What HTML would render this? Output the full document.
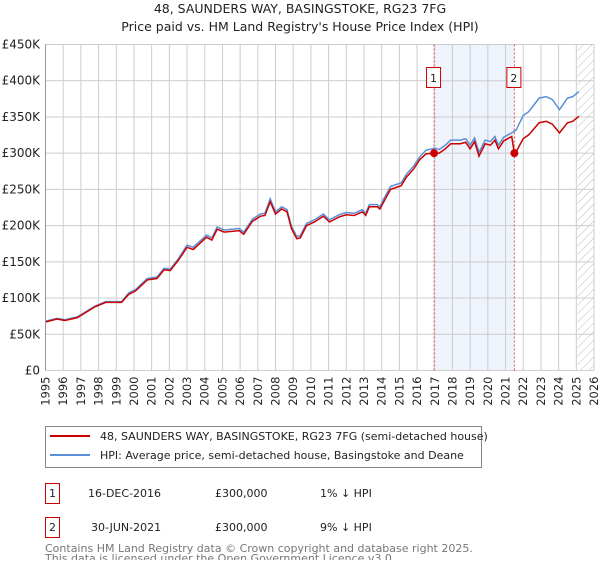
<!DOCTYPE html>
<html><head><meta charset="utf-8"><style>
body{margin:0;background:#fff;font-family:"Liberation Sans","DejaVu Sans",sans-serif;}
svg text{font-family:"DejaVu Sans","Liberation Sans",sans-serif;}
</style></head><body>
<svg id="c" width="600" height="560" xmlns="http://www.w3.org/2000/svg">
<defs><pattern id="hatch" width="6" height="6" patternUnits="userSpaceOnUse" patternTransform="rotate(45)"><line x1="0" y1="0" x2="0" y2="6" stroke="#bbb" stroke-width="1"/></pattern></defs>
<text x="300" y="13" text-anchor="middle" font-size="12.5" fill="#222">48, SAUNDERS WAY, BASINGSTOKE, RG23 7FG</text>
<text x="300" y="31" text-anchor="middle" font-size="12.5" fill="#222">Price paid vs. HM Land Registry's House Price Index (HPI)</text>
<g id="plot"></g>
<g>
<rect x="45.5" y="426.5" width="436" height="41" fill="#fff" stroke="#888"/>
<line x1="50" y1="436" x2="90" y2="436" stroke="#cc0000" stroke-width="2"/>
<text x="100" y="440" font-size="11" fill="#222">48, SAUNDERS WAY, BASINGSTOKE, RG23 7FG (semi-detached house)</text>
<line x1="50" y1="455" x2="90" y2="455" stroke="#5b8fd6" stroke-width="2"/>
<text x="100" y="459" font-size="11" fill="#222">HPI: Average price, semi-detached house, Basingstoke and Deane</text>
</g>
<g font-size="11" fill="#222">
<rect x="45.5" y="483.5" width="14" height="20" fill="#fff" stroke="#cc0000"/><text x="52.5" y="497" text-anchor="middle">1</text>
<text x="88" y="497">16-DEC-2016</text><text x="215" y="497">£300,000</text><text x="320" y="497">1% ↓ HPI</text>
<rect x="45.5" y="517.5" width="14" height="20" fill="#fff" stroke="#cc0000"/><text x="52.5" y="531" text-anchor="middle">2</text>
<text x="91" y="531">30-JUN-2021</text><text x="215" y="531">£300,000</text><text x="320" y="531">9% ↓ HPI</text>
</g>
<text x="45" y="552" font-size="11" fill="#777">Contains HM Land Registry data © Crown copyright and database right 2025.</text>
<text x="45" y="562" font-size="11" fill="#777">This data is licensed under the Open Government Licence v3.0.</text>
</svg>
<script>
const hpiYears=[1995.0,1995.65,1996.1,1996.8,1997.8,1998.4,1999.3,1999.7,2000.1,2000.75,2001.3,2001.7,2002.05,2002.5,2003.0,2003.35,2004.1,2004.4,2004.7,2005.1,2005.95,2006.2,2006.7,2007.15,2007.4,2007.7,2008.0,2008.35,2008.65,2008.9,2009.2,2009.4,2009.75,2010.2,2010.7,2011.05,2011.6,2012.0,2012.45,2012.9,2013.1,2013.3,2013.75,2013.9,2014.1,2014.5,2015.1,2015.4,2015.8,2016.15,2016.5,2017.0,2017.25,2017.6,2017.9,2018.45,2018.75,2019.0,2019.25,2019.5,2019.85,2020.15,2020.4,2020.6,2020.9,2021.35,2021.6,2022.0,2022.3,2022.9,2023.3,2023.65,2024.05,2024.5,2024.8,2025.15];
const hpiValues=[68,72,70,74,89,95,95,107,112,127,129,141,140,154,173,170,187,183,198,194,196,191,209,216,217,237,219,226,222,199,185,186,203,208,216,208,215,218,217,222,217,229,229,226,236,254,259,271,282,295,304,307,305,311,318,318,320,311,321,301,318,316,323,311,322,328,332,352,357,376,378,374,360,376,378,385];
const priceYears=[1995.0,1995.65,1996.1,1996.8,1997.8,1998.4,1999.3,1999.7,2000.1,2000.75,2001.3,2001.7,2002.05,2002.5,2003.0,2003.35,2004.1,2004.4,2004.7,2005.1,2005.95,2006.2,2006.7,2007.15,2007.4,2007.7,2008.0,2008.35,2008.65,2008.9,2009.2,2009.4,2009.75,2010.2,2010.7,2011.05,2011.6,2012.0,2012.45,2012.9,2013.1,2013.3,2013.75,2013.9,2014.1,2014.5,2015.1,2015.4,2015.8,2016.15,2016.5,2016.96,2017.25,2017.6,2017.9,2018.45,2018.75,2019.0,2019.25,2019.5,2019.85,2020.15,2020.4,2020.6,2020.9,2021.35,2021.5,2021.6,2022.0,2022.3,2022.9,2023.3,2023.65,2024.05,2024.5,2024.8,2025.15];
const priceValues=[67,71,69,73,88,94,94,105,110,125,127,139,138,152,170,167,184,180,195,191,193,188,206,213,214,233,216,223,219,196,182,183,200,205,213,205,212,215,214,219,214,226,226,223,232,250,255,267,278,291,299,300,300,306,313,313,315,306,316,296,313,311,318,306,317,323,300,302,320,325,342,344,340,328,342,344,351];
const saleYears=[2016.96,2021.5];
const saleValues=[300,300];
const saleLabels=["1","2"];
const yTicks=[0,50,100,150,200,250,300,350,400,450];
const yTickLabels=["£0","£50K","£100K","£150K","£200K","£250K","£300K","£350K","£400K","£450K"];
const xTicks=[1995,1996,1997,1998,1999,2000,2001,2002,2003,2004,2005,2006,2007,2008,2009,2010,2011,2012,2013,2014,2015,2016,2017,2018,2019,2020,2021,2022,2023,2024,2025,2026];
const forecastStart=2025.05;

const X0=45.5,X1=594,Y0=370.5,Y1=44.5;
const x=v=>X0+(v-1995)/(2026-1995)*(X1-X0);
const y=v=>Y0-v/450*(Y0-Y1);
const NS="http://www.w3.org/2000/svg";
const g=document.getElementById('plot');
function mk(t,a,p){const e=document.createElementNS(NS,t);for(const k in a)e.setAttribute(k,a[k]);(p||g).appendChild(e);return e;}

const sh=mk('rect',{x:x(saleYears[0]),y:Y1,width:x(saleYears[1])-x(saleYears[0]),height:Y0-Y1,fill:'#eef3fc'});


const ht=mk('rect',{x:x(forecastStart),y:Y1,width:X1-x(forecastStart),height:Y0-Y1,fill:'url(#hatch)'});



xTicks.forEach(t=>{
  const l=mk('line',{x1:x(t),x2:x(t),y1:Y1,y2:Y0,stroke:'#cccccc','stroke-width':1});
  
  
  const tx=mk('text',{x:0,y:0,'font-size':11.5,fill:'#222','text-anchor':'end',transform:`translate(${x(t)+4},${Y0+6}) rotate(-90)`});
  tx.textContent=t;
  
  
});
yTicks.forEach((t,i)=>{
  const l=mk('line',{x1:X0,x2:X1,y1:y(t),y2:y(t),stroke:'#cccccc','stroke-width':1});
  
  
  const tx=mk('text',{x:40,y:y(t)+4,'font-size':12,fill:'#222','text-anchor':'end'});
  tx.textContent=yTickLabels[i];
  
  
});

saleYears.forEach((s,i)=>{
  const l=mk('line',{x1:x(s),x2:x(s),y1:Y1,y2:Y0,stroke:'#e05050','stroke-width':1,'stroke-dasharray':'2,2'});
  
  
  const r=mk('rect',{x:x(s)-7.5,y:67.5,width:14,height:20,fill:'#fff',stroke:'#cc0000'});
  
  
  const t=mk('text',{x:x(s)-0.5,y:82,'font-size':11,fill:'#222','text-anchor':'middle'});
  t.textContent=saleLabels[i];
  
  
});

const hp=mk('polyline',{points:hpiYears.map((v,i)=>x(v)+','+y(hpiValues[i])).join(' '),fill:'none',stroke:'#5b8fd6','stroke-width':1.5});


const pp=mk('polyline',{points:priceYears.map((v,i)=>x(v)+','+y(priceValues[i])).join(' '),fill:'none',stroke:'#cc0000','stroke-width':1.5});


saleYears.forEach((s,i)=>{
  const c=mk('circle',{cx:x(s),cy:y(saleValues[i]),r:4,fill:'#cc0000'});
  
  
});
const ax=mk('line',{x1:X0,x2:X0,y1:Y1,y2:Y0,stroke:'#999'});


</script>
</body></html>
